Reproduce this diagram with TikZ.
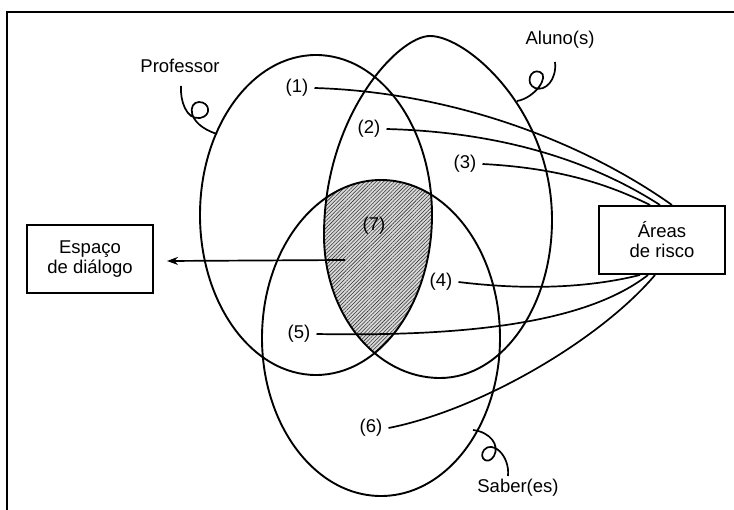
\documentclass[tikz,border=0pt]{standalone}
\usepackage{fontspec}
\setmainfont{Liberation Sans}
\usetikzlibrary{patterns.meta,arrows.meta}
\begin{document}
\begin{tikzpicture}[x=1pt,y=-1pt,
  every node/.style={font=\fontsize{18.5}{20}\selectfont, inner sep=2pt},
  ell/.style={line width=1.9pt},
  conn/.style={line width=1.7pt},
  boxnode/.style={draw, line width=2pt, minimum width=126pt, minimum height=68pt, align=center},
  curl/.style={line width=1.7pt}]
\def\profpath{(316,215) ellipse [x radius=116pt, y radius=160pt]}
\def\alunopath{(430,36) .. controls (467,36) and (552,110) .. (552,220) .. controls (552,307) and (502,378) .. (440,378) .. controls (376,378) and (324,314) .. (324,235) .. controls (324,116) and (398,36) .. cycle}
\def\saberpath{(381,338) ellipse [x radius=119pt, y radius=158pt]}
\useasboundingbox (0,0) rectangle (734,510);
% frame
\draw[line width=2.8pt] (734,12) -- (7,12) -- (7,510);
% shaded intersection
\begin{scope}
  \clip \profpath;
  \clip \alunopath;
  \fill[gray!30] \saberpath;
  \fill[pattern={Lines[angle=45,distance=2.6pt,line width=0.55pt]}, pattern color=black!80] \saberpath;
\end{scope}
% ellipses
\draw[ell] \profpath;
\draw[ell] \alunopath;
\draw[ell] \saberpath;
% curls
\draw[curl] (181,86) .. controls (180,100) and (186,120) .. (200,118) .. controls (212,116) and (210,102) .. (199,102) .. controls (188,102) and (186,124) .. (217,134);
\draw[curl] (555,62) .. controls (557,80) and (545,92) .. (535,88) .. controls (525,84) and (530,68) .. (540,72) .. controls (550,76) and (535,98) .. (517,101);
\draw[curl] (473,430) .. controls (490,432) and (500,445) .. (494,456) .. controls (488,466) and (478,458) .. (484,450) .. controls (492,440) and (510,455) .. (508,476);
% labels
\node (prof) at (180,66) {Professor};
\node (aluno) at (560,40) {Aluno(s)};
\node (saber) at (518,488) {Saber(es)};
\node (n1) at (297,88) {(1)};
\node (n2) at (369,129) {(2)};
\node (n3) at (465,164) {(3)};
\node (n4) at (441,282) {(4)};
\node (n5) at (299,334) {(5)};
\node (n6) at (371,428) {(6)};
\node (n7) at (374,226) {(7)};
% boxes
\node[boxnode] (espaco) at (90,259) {Espaço\\de diálogo};
\node[boxnode] (areas) at (662,240) {Áreas\\de risco};
% arrow
\coordinate (a7) at (345,260);
\draw[conn, -{Stealth[length=11pt,width=8pt]}] (a7) -- ([xshift=13pt,yshift=-2pt]espaco.east);
% connectors
\draw[conn] ([xshift=4pt]n1.east) .. controls (450,92) and (580,140) .. ([xshift=10pt]areas.north);
\draw[conn] ([xshift=4pt]n2.east) .. controls (500,132) and (590,160) .. ([xshift=-2pt]areas.north);
\draw[conn] ([xshift=4pt]n3.east) .. controls (560,168) and (610,185) .. ([xshift=-12pt]areas.north);
\draw[conn] ([xshift=4pt]n4.east) .. controls (540,292) and (600,285) .. ([xshift=-22pt]areas.south);
\draw[conn] ([xshift=4pt]n5.east) .. controls (480,337) and (590,320) .. ([xshift=-14pt]areas.south);
\draw[conn] ([xshift=4pt]n6.east) .. controls (480,410) and (600,340) .. ([xshift=-7pt]areas.south);
\end{tikzpicture}
\end{document}
